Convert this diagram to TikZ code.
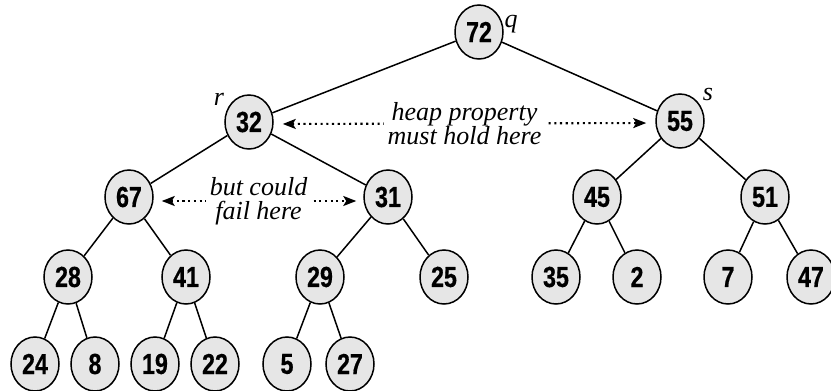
\documentclass[tikz,border=0pt]{standalone}
\usepackage{fontspec}
\setmainfont{Liberation Serif}
\newfontface\numfont[FakeStretch=0.8,FakeBold=0.6]{Liberation Sans Bold}
\newfontface\itfont{Liberation Serif Italic}
\usetikzlibrary{shapes.geometric,arrows.meta}
\definecolor{nodefill}{HTML}{E6E6E6}
\begin{document}
\begin{tikzpicture}[x=1pt,y=-1pt,
  hn/.style={ellipse,draw,line width=1.5pt,fill=nodefill,minimum width=48pt,minimum height=54pt,inner sep=0pt,
    font=\numfont\fontsize{29}{29}\selectfont},
  edge/.style={line width=1.5pt},
  lbl/.style={font=\itfont\fontsize{26}{26}\selectfont,anchor=base,inner sep=0pt},
  darr/.style={line width=2.1pt,dash pattern=on 2.1pt off 3.6pt,{Stealth[length=13pt,width=10pt,inset=3pt]}-{Stealth[length=13pt,width=10pt,inset=3pt]}},
  note/.style={fill=white,align=center,inner xsep=4pt,inner ysep=1pt,font=\itfont\fontsize{26}{24}\selectfont}]
\useasboundingbox (0,0) rectangle (831,391);
% nodes
\node[hn] (n72) at (479,32) {72};
\node[hn] (n32) at (249,122) {32};
\node[hn] (n55) at (680,121) {55};
\node[hn] (n67) at (129,197) {67};
\node[hn] (n31) at (388,197) {31};
\node[hn] (n45) at (597,197) {45};
\node[hn] (n51) at (765,197) {51};
\node[hn] (n28) at (68,277) {28};
\node[hn] (n41) at (186,277) {41};
\node[hn] (n29) at (320,277) {29};
\node[hn] (n25) at (444,277) {25};
\node[hn] (n35) at (556,277) {35};
\node[hn] (n2) at (637,277) {2};
\node[hn] (n7) at (728,277) {7};
\node[hn] (n47) at (811,277) {47};
\node[hn] (n24) at (35,364) {24};
\node[hn] (n8) at (95,364) {8};
\node[hn] (n19) at (155,364) {19};
\node[hn] (n22) at (215,364) {22};
\node[hn] (n5) at (287,364) {5};
\node[hn] (n27) at (350,364) {27};
% edges
\foreach \a/\b in {n72/n32,n72/n55,n32/n67,n32/n31,n55/n45,n55/n51,n67/n28,n67/n41,n31/n29,n31/n25,n45/n35,n45/n2,n51/n7,n51/n47,n28/n24,n28/n8,n41/n19,n41/n22,n29/n5,n29/n27}
  \draw[edge] (\a) -- (\b);
% labels
\node[lbl] (lq) at (511,27) {q};
\node[lbl] (lr) at (219,105) {r};
\node[lbl] (ls) at (708,100) {s};
% dotted arrows
\draw[darr,shorten <=9pt,shorten >=9pt] ([yshift=-2pt]n32.east) -- ([yshift=-2pt]n55.west)
  node[note,midway] (t1) {heap property\\must hold here};
\draw[darr,shorten <=8pt,shorten >=7pt] ([yshift=-4pt]n67.east) -- ([yshift=-4pt]n31.west)
  node[note,midway] (t2) {but could\\fail here};
\end{tikzpicture}
\end{document}
